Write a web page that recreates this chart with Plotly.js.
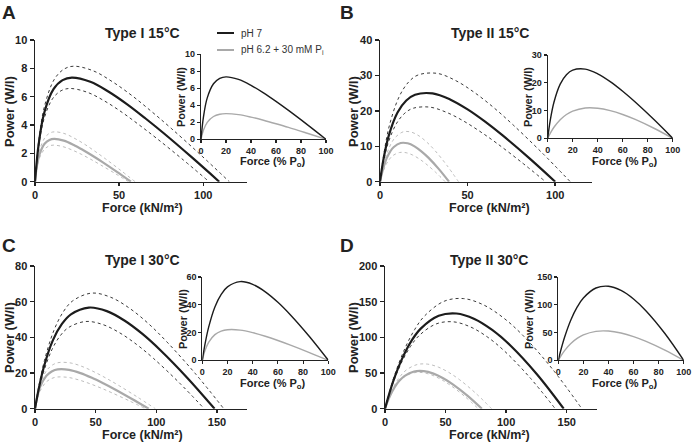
<!DOCTYPE html>
<html>
<head>
<meta charset="utf-8">
<script src="https://cdn.plot.ly/plotly-3.0.1.min.js"></script>
<style>html,body{margin:0;padding:0;background:#fff;}#chart{width:692px;height:443px;}</style>
</head>
<body>
<div id="chart"></div>
<script>
// ---------- DATA ----------
const panelTitles = ["Type I 15°C", "Type II 15°C", "Type I 30°C", "Type II 30°C"];
const panelLetters = ["A", "B", "C", "D"];
const seriesNames = ["pH 7", "pH 6.2 + 30 mM P<sub>i</sub>"];
const pctForce = [0, 2, 5, 10, 15, 20, 30, 40, 50, 60, 70, 85, 100];

// Panel A – Type I 15°C
const A_f_pH7    = [0, 2.2, 5.5, 11.0, 16.4, 21.9, 32.9, 43.8, 54.8, 65.7, 76.7, 93.1, 109.5];
const A_p_pH7    = [0, 2.66, 4.87, 6.53, 7.17, 7.35, 7.05, 6.35, 5.46, 4.46, 3.40, 1.73, 0];
const A_f_pH7_hi = [0, 2.3, 5.8, 11.6, 17.3, 23.1, 34.7, 46.2, 57.8, 69.3, 80.9, 98.2, 115.5];
const A_p_pH7_hi = [0, 2.95, 5.40, 7.25, 7.95, 8.15, 7.82, 7.04, 6.06, 4.95, 3.77, 1.92, 0];
const A_f_pH7_lo = [0, 2.1, 5.2, 10.4, 15.5, 20.7, 31.1, 41.4, 51.8, 62.1, 72.5, 88.0, 103.5];
const A_p_pH7_lo = [0, 2.38, 4.36, 5.85, 6.42, 6.58, 6.31, 5.69, 4.89, 3.99, 3.04, 1.55, 0];
const A_f_Pi     = [0, 1.1, 2.9, 5.7, 8.6, 11.4, 17.1, 22.8, 28.5, 34.2, 39.9, 48.5, 57];
const A_p_Pi     = [0, 1.09, 2.00, 2.68, 2.95, 3.02, 2.90, 2.61, 2.24, 1.83, 1.40, 0.71, 0];
const A_f_Pi_hi  = [0, 1.2, 3.0, 6.0, 8.9, 11.9, 17.9, 23.8, 29.8, 35.7, 41.7, 50.6, 59.5];
const A_p_Pi_hi  = [0, 1.27, 2.33, 3.13, 3.44, 3.52, 3.38, 3.04, 2.62, 2.14, 1.63, 0.83, 0];
const A_f_Pi_lo  = [0, 1.1, 2.8, 5.6, 8.3, 11.1, 16.7, 22.2, 27.8, 33.3, 38.9, 47.2, 55.5];
const A_p_Pi_lo  = [0, 0.93, 1.71, 2.29, 2.52, 2.58, 2.47, 2.23, 1.92, 1.57, 1.19, 0.61, 0];

// Panel B – Type II 15°C
const B_f_pH7    = [0, 2, 5, 10, 15, 20, 30, 40, 50, 60, 70, 85, 100];
const B_p_pH7    = [0, 6.38, 13.0, 19.53, 22.92, 24.55, 24.92, 23.22, 20.41, 16.94, 13.05, 6.73, 0];
const B_f_pH7_hi = [0, 2.2, 5.4, 10.9, 16.3, 21.7, 32.6, 43.4, 54.3, 65.2, 76.0, 92.3, 108.6];
const B_p_pH7_hi = [0, 7.82, 15.95, 23.96, 28.12, 30.12, 30.58, 28.49, 25.04, 20.79, 16.02, 8.25, 0];
const B_f_pH7_lo = [0, 1.9, 4.7, 9.5, 14.2, 18.9, 28.4, 37.8, 47.3, 56.7, 66.2, 80.3, 94.5];
const B_p_pH7_lo = [0, 5.39, 10.98, 16.49, 19.36, 20.73, 21.05, 19.61, 17.24, 14.31, 11.02, 5.68, 0];
const B_f_Pi     = [0, 0.8, 2.0, 3.9, 5.9, 7.9, 11.8, 15.8, 19.7, 23.6, 27.6, 33.5, 39.4];
const B_p_Pi     = [0, 1.77, 3.97, 6.71, 8.58, 9.80, 10.92, 10.84, 9.98, 8.58, 6.80, 3.62, 0];
const B_f_Pi_hi  = [0, 0.9, 2.2, 4.5, 6.7, 9.0, 13.4, 17.9, 22.4, 26.9, 31.4, 38.1, 44.8];
const B_p_Pi_hi  = [0, 2.29, 5.13, 8.66, 11.08, 12.65, 14.10, 13.99, 12.88, 11.08, 8.78, 4.67, 0];
const B_f_Pi_lo  = [0, 0.7, 1.9, 3.7, 5.6, 7.4, 11.2, 14.9, 18.6, 22.3, 26.0, 31.6, 37.2];
const B_p_Pi_lo  = [0, 1.34, 3.00, 5.06, 6.47, 7.40, 8.24, 8.18, 7.53, 6.47, 5.13, 2.73, 0];

// Panel C – Type I 30°C
const C_f_pH7    = [0, 3.0, 7.4, 14.8, 22.2, 29.6, 44.4, 59.2, 74.0, 88.8, 103.6, 125.8, 148];
const C_p_pH7    = [0, 10.89, 23.70, 38.44, 47.51, 52.90, 56.70, 54.72, 49.33, 41.79, 32.66, 17.12, 0];
const C_f_pH7_hi = [0, 3.1, 7.8, 15.6, 23.3, 31.1, 46.7, 62.2, 77.8, 93.4, 108.9, 132.3, 155.6];
const C_p_pH7_hi = [0, 12.44, 27.09, 43.93, 54.30, 60.46, 64.80, 62.53, 56.38, 47.76, 37.32, 19.57, 0];
const C_f_pH7_lo = [0, 2.8, 7.0, 14.0, 20.9, 27.9, 41.9, 55.8, 69.8, 83.7, 97.7, 118.6, 139.5];
const C_p_pH7_lo = [0, 9.39, 20.44, 33.15, 40.98, 45.62, 48.90, 47.19, 42.54, 36.04, 28.17, 14.77, 0];
const C_f_Pi     = [0, 1.9, 4.7, 9.4, 14.1, 18.7, 28.1, 37.5, 46.9, 56.2, 65.6, 79.6, 93.7];
const C_p_Pi     = [0, 6.62, 12.92, 18.47, 21.02, 22.02, 21.76, 19.94, 17.32, 14.27, 10.94, 5.59, 0];
const C_f_Pi_hi  = [0, 2.0, 5.0, 9.9, 14.9, 19.8, 29.8, 39.7, 49.6, 59.5, 69.4, 84.3, 99.2];
const C_p_Pi_hi  = [0, 7.78, 15.19, 21.72, 24.72, 25.89, 25.58, 23.44, 20.36, 16.78, 12.87, 6.58, 0];
const C_f_Pi_lo  = [0, 1.8, 4.6, 9.1, 13.7, 18.2, 27.3, 36.4, 45.5, 54.6, 63.7, 77.4, 91];
const C_p_Pi_lo  = [0, 5.33, 10.42, 14.89, 16.95, 17.76, 17.54, 16.07, 13.96, 11.51, 8.82, 4.51, 0];

// Panel D – Type II 30°C
const D_f_pH7    = [0, 3.0, 7.4, 14.8, 22.1, 29.5, 44.3, 59.0, 73.8, 88.5, 103.3, 125.4, 147.5];
const D_p_pH7    = [0, 18.05, 41.45, 72.60, 95.73, 112.2, 130.2, 133.4, 125.8, 110.4, 88.91, 48.27, 0];
const D_f_pH7_hi = [0, 3.3, 8.1, 16.3, 24.4, 32.5, 48.8, 65.0, 81.3, 97.5, 113.8, 138.1, 162.5];
const D_p_pH7_hi = [0, 20.87, 47.93, 83.95, 110.7, 129.7, 150.6, 154.3, 145.5, 127.7, 102.8, 55.81, 0];
const D_f_pH7_lo = [0, 2.8, 7.0, 14.1, 21.1, 28.1, 42.2, 56.2, 70.3, 84.3, 98.4, 119.4, 140.5];
const D_p_pH7_lo = [0, 16.47, 37.82, 66.25, 87.35, 102.4, 118.8, 121.8, 114.8, 100.8, 81.13, 44.04, 0];
const D_f_Pi     = [0, 1.6, 4, 8, 12, 16, 24, 32, 40, 48, 56, 68, 80];
const D_p_Pi     = [0, 7.69, 17.54, 30.26, 39.38, 45.69, 52.10, 52.63, 49.13, 42.72, 34.19, 18.39, 0];
const D_f_Pi_hi  = [0, 1.8, 4.4, 8.8, 13.2, 17.6, 26.4, 35.2, 44.0, 52.8, 61.6, 74.8, 88];
const D_p_Pi_hi  = [0, 9.12, 20.82, 35.92, 46.73, 54.22, 61.83, 62.46, 58.31, 50.70, 40.57, 21.83, 0];
const D_f_Pi_lo  = [0, 1.5, 3.9, 7.7, 11.6, 15.4, 23.1, 30.8, 38.5, 46.2, 53.9, 65.5, 77];
const D_p_Pi_lo  = [0, 7.40, 16.88, 29.12, 37.89, 43.96, 50.13, 50.64, 47.28, 41.11, 32.90, 17.70, 0];

// axis extents / ticks
const mainXRange = [[0, 126], [0, 121], [0, 175], [0, 175]];
const mainYRange = [[0, 10], [0, 40], [0, 80], [0, 200]];
const mainYTick  = [2, 10, 20, 50];
const insetYRange = [[0, 10], [0, 30], [0, 60], [0, 150]];
const insetYTick  = [2, 10, 20, 50];

// ---------- BUILD ----------
const W = 692, H = 443;
const px = v => v / W;
const py = v => 1 - v / H;

const BLACK = '#1c1c1c', DOT = '#3a3a3a', GRAY = '#a9a9a9', GRAYDOT = '#bdbdbd';
const FONT = 'Liberation Sans, Arial, sans-serif';

const panels = [
  {f:[A_f_pH7,A_f_pH7_hi,A_f_pH7_lo,A_f_Pi,A_f_Pi_hi,A_f_Pi_lo], p:[A_p_pH7,A_p_pH7_hi,A_p_pH7_lo,A_p_Pi,A_p_Pi_hi,A_p_Pi_lo],
   main:{x0:35,x1:247,y0:181.7,y1:40}, inset:{x0:201,x1:326,y0:139.3,y1:54.3}},
  {f:[B_f_pH7,B_f_pH7_hi,B_f_pH7_lo,B_f_Pi,B_f_Pi_hi,B_f_Pi_lo], p:[B_p_pH7,B_p_pH7_hi,B_p_pH7_lo,B_p_Pi,B_p_Pi_hi,B_p_Pi_lo],
   main:{x0:380,x1:592,y0:181.7,y1:40}, inset:{x0:547.7,x1:672.7,y0:138.3,y1:55}},
  {f:[C_f_pH7,C_f_pH7_hi,C_f_pH7_lo,C_f_Pi,C_f_Pi_hi,C_f_Pi_lo], p:[C_p_pH7,C_p_pH7_hi,C_p_pH7_lo,C_p_Pi,C_p_Pi_hi,C_p_Pi_lo],
   main:{x0:35,x1:247.3,y0:408.7,y1:266}, inset:{x0:202.3,x1:328.3,y0:360.3,y1:277}},
  {f:[D_f_pH7,D_f_pH7_hi,D_f_pH7_lo,D_f_Pi,D_f_Pi_hi,D_f_Pi_lo], p:[D_p_pH7,D_p_pH7_hi,D_p_pH7_lo,D_p_Pi,D_p_Pi_hi,D_p_Pi_lo],
   main:{x0:385,x1:597,y0:408.7,y1:266}, inset:{x0:558.3,x1:683.7,y0:360.3,y1:277}}
];

const traces = [];
const layout = {
  width: W, height: H, margin: {l:0, r:0, t:0, b:0},
  paper_bgcolor: '#fff', plot_bgcolor: 'rgba(0,0,0,0)',
  showlegend: false, annotations: [], shapes: [],
  font: {family: FONT, color: '#222'}
};

function axisBase(isInset) {
  return {
    showline: true, linecolor: '#222', linewidth: isInset ? 1.1 : 1.5,
    ticks: 'outside', ticklen: isInset ? 3 : 4, tickwidth: isInset ? 1.1 : 1.5, tickcolor: '#222',
    showgrid: false, zeroline: false, fixedrange: true,
    tickfont: {family: FONT, size: isInset ? 9 : 11, color: '#222', weight: 'bold'}
  };
}

const styles = [
  {color: BLACK, width: 2.2, dash: 'solid'},
  {color: DOT, width: 1, dash: 'dot'},
  {color: DOT, width: 1, dash: 'dot'},
  {color: GRAY, width: 2.2, dash: 'solid'},
  {color: GRAYDOT, width: 1, dash: 'dot'},
  {color: GRAYDOT, width: 1, dash: 'dot'}
];
const drawOrder = [1, 2, 4, 5, 3, 0];

panels.forEach((pn, i) => {
  const mi = 2 * i + 1, ii = 2 * i + 2;
  const xm = mi === 1 ? 'x' : 'x' + mi, ym = mi === 1 ? 'y' : 'y' + mi;
  const ix = 'x' + ii, iy = 'y' + ii;
  const kx = mi === 1 ? 'xaxis' : 'xaxis' + mi;
  const ky = mi === 1 ? 'yaxis' : 'yaxis' + mi;

  layout[kx] = Object.assign(axisBase(false), {
    domain: [px(pn.main.x0), px(pn.main.x1)], range: mainXRange[i], dtick: 50, tick0: 0, anchor: ym, ticklen: 3
  });
  layout[ky] = Object.assign(axisBase(false), {
    domain: [py(pn.main.y0), py(pn.main.y1)], range: mainYRange[i], dtick: mainYTick[i], tick0: 0, anchor: xm
  });
  layout['xaxis' + ii] = Object.assign(axisBase(true), {
    domain: [px(pn.inset.x0), px(pn.inset.x1)], range: [0, 100], dtick: 20, tick0: 0, anchor: iy
  });
  layout['yaxis' + ii] = Object.assign(axisBase(true), {
    domain: [py(pn.inset.y0), py(pn.inset.y1)], range: insetYRange[i], dtick: insetYTick[i], tick0: 0, anchor: ix
  });

  drawOrder.forEach(k => {
    traces.push({
      type: 'scatter', mode: 'lines', x: pn.f[k], y: pn.p[k], xaxis: xm, yaxis: ym,
      line: {color: styles[k].color, width: styles[k].width, dash: styles[k].dash, shape: 'spline', smoothing: 1},
      hoverinfo: 'skip', cliponaxis: false
    });
  });
  // inset: force as % of Po
  [3, 0].forEach(k => {
    traces.push({
      type: 'scatter', mode: 'lines', x: pctForce, y: pn.p[k], xaxis: ix, yaxis: iy,
      line: {color: k === 0 ? BLACK : GRAY, width: 1.4, shape: 'spline', smoothing: 1},
      hoverinfo: 'skip', cliponaxis: false
    });
  });
});

// ---------- TEXT ----------
function ann(text, x, y, size, opts) {
  layout.annotations.push(Object.assign({
    text: text, x: px(x), y: py(y), xref: 'paper', yref: 'paper',
    showarrow: false, xanchor: 'center', yanchor: 'middle', borderpad: 0,
    font: {family: FONT, size: size, color: '#222', weight: 'bold'}
  }, opts || {}));
}

const letterPos = [[9, 12], [347, 12], [9, 245], [347, 245]];
const titlePos = [[142, 33], [489.5, 33], [142.5, 260], [489, 260]];
const xTitlePos = [[142, 216], [489.5, 216], [142, 442.5], [489, 442.5]];
const yTitlePos = [[9, 112], [353, 112], [9, 338], [353, 338]];
const iyTitlePos = [[181, 97], [528, 97], [183, 319], [529, 319]];
const ixTitlePos = [[273, 154], [625, 154], [273, 376], [625, 376]];

for (let i = 0; i < 4; i++) {
  ann(panelLetters[i], letterPos[i][0], letterPos[i][1], 19);
  ann(panelTitles[i], titlePos[i][0], titlePos[i][1], 14);
  ann('Force (kN/m²)', xTitlePos[i][0], xTitlePos[i][1], 12.5, {yanchor: 'bottom'});
  ann('Power (W/l)', yTitlePos[i][0], yTitlePos[i][1], 13, {textangle: -90});
  ann('Power (W/l)', iyTitlePos[i][0], iyTitlePos[i][1], 11, {textangle: -90});
  ann('Force (% P<sub>o</sub>)', ixTitlePos[i][0], ixTitlePos[i][1], 11, {yanchor: 'top'});
}

// legend (panel A)
layout.shapes.push({type: 'line', xref: 'paper', yref: 'paper', x0: px(217), x1: px(234), y0: py(33), y1: py(33), line: {color: BLACK, width: 2}});
layout.shapes.push({type: 'line', xref: 'paper', yref: 'paper', x0: px(217), x1: px(234), y0: py(50), y1: py(50), line: {color: GRAY, width: 2}});
ann(seriesNames[0], 240, 33, 10, {xanchor: 'left', font: {family: FONT, size: 10, color: '#333'}});
ann(seriesNames[1], 240, 50, 10, {xanchor: 'left', font: {family: FONT, size: 10, color: '#333'}});

Plotly.newPlot('chart', traces, layout, {staticPlot: true, displayModeBar: false});
</script>
</body>
</html>
